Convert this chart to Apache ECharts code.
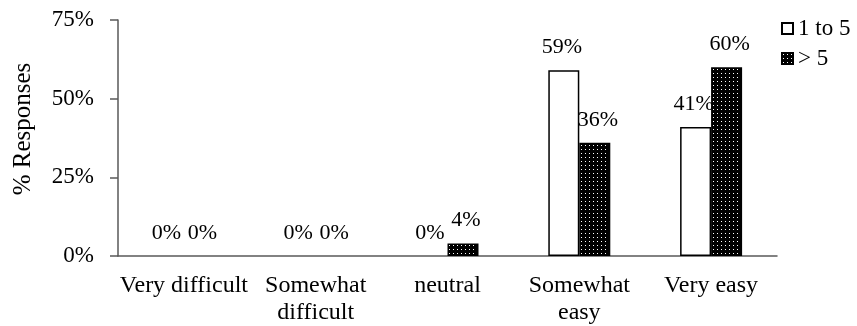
<!DOCTYPE html>
<html>
<head>
<meta charset="utf-8">
<script src="https://cdn.jsdelivr.net/npm/echarts@6/dist/echarts.min.js"></script>
<style>
  html, body { margin: 0; padding: 0; background: #fff; }
  #chart { width: 857px; height: 326px; }
</style>
</head>
<body>
<div id="chart"></div>
<script>
// Survey answers by group, in percent of responses
const categories = ['Very difficult', 'Somewhat\ndifficult', 'neutral', 'Somewhat\neasy', 'Very easy'];
const seriesNames = ['1 to 5', '> 5'];
const groupSmall = [0, 0, 0, 59, 41];
const groupLarge = [0, 0, 4, 36, 60];
const yTicks = [0, 25, 50, 75];

// Black fill with a regular grid of small white dots
function dotPattern() {
  const c = document.createElement('canvas');
  c.width = 4; c.height = 4;
  const ctx = c.getContext('2d');
  ctx.fillStyle = '#000';
  ctx.fillRect(0, 0, 4, 4);
  ctx.fillStyle = '#fff';
  ctx.fillRect(1, 1, 1, 1);
  return c;
}

// Zero-height bars get no outline so they don't show as a stub on the axis
function barItems(values) {
  return values.map(v => (v === 0 ? { value: v, itemStyle: { borderWidth: 0 } } : v));
}

const font = 'Liberation Serif';
const chart = echarts.init(document.getElementById('chart'));

function labelStyle(dx) {
  return {
    show: true,
    position: 'top',
    distance: 12,
    offset: [dx, 0],
    formatter: p => p.value + '%',
    fontFamily: font,
    fontSize: 22,
    color: '#000'
  };
}

chart.setOption({
  animation: false,
  textStyle: { fontFamily: font },
  grid: { left: 118, right: 80, top: 20, bottom: 68 },
  legend: {
    orient: 'vertical',
    left: 776,
    top: 12,
    icon: 'rect',
    itemWidth: 11,
    itemHeight: 11,
    itemGap: 7,
    textStyle: { fontFamily: font, fontSize: 23, color: '#000' },
    data: seriesNames
  },
  xAxis: {
    type: 'category',
    data: categories,
    axisLine: { lineStyle: { color: '#595959', width: 1.5 } },
    axisTick: { show: false },
    axisLabel: {
      fontFamily: font, fontSize: 24, color: '#000',
      margin: 16, lineHeight: 27, interval: 0
    }
  },
  yAxis: {
    type: 'value',
    min: yTicks[0],
    max: yTicks[yTicks.length - 1],
    interval: 25,
    name: '% Responses',
    nameLocation: 'middle',
    nameGap: 82,
    nameRotate: 90,
    nameTextStyle: { fontFamily: font, fontSize: 25, color: '#000', padding: [0, 0, 0, 18] },
    splitLine: { show: false },
    axisLine: { show: true, lineStyle: { color: '#595959', width: 1.5 } },
    axisTick: { show: true, length: 8, lineStyle: { color: '#595959', width: 1.5 } },
    axisLabel: {
      fontFamily: font, fontSize: 23, color: '#000', margin: 24,
      formatter: v => v + '%'
    }
  },
  series: [
    {
      name: seriesNames[0],
      type: 'bar',
      data: barItems(groupSmall),
      barWidth: 31,
      barGap: '0%',
      itemStyle: { color: '#fff', borderColor: '#000', borderWidth: 1.5 },
      label: labelStyle(-2)
    },
    {
      name: seriesNames[1],
      type: 'bar',
      data: barItems(groupLarge),
      barWidth: 31,
      barGap: '0%',
      itemStyle: {
        color: { image: dotPattern(), repeat: 'repeat' },
        borderColor: '#000',
        borderWidth: 1.5
      },
      label: labelStyle(3)
    }
  ]
});
</script>
</body>
</html>
